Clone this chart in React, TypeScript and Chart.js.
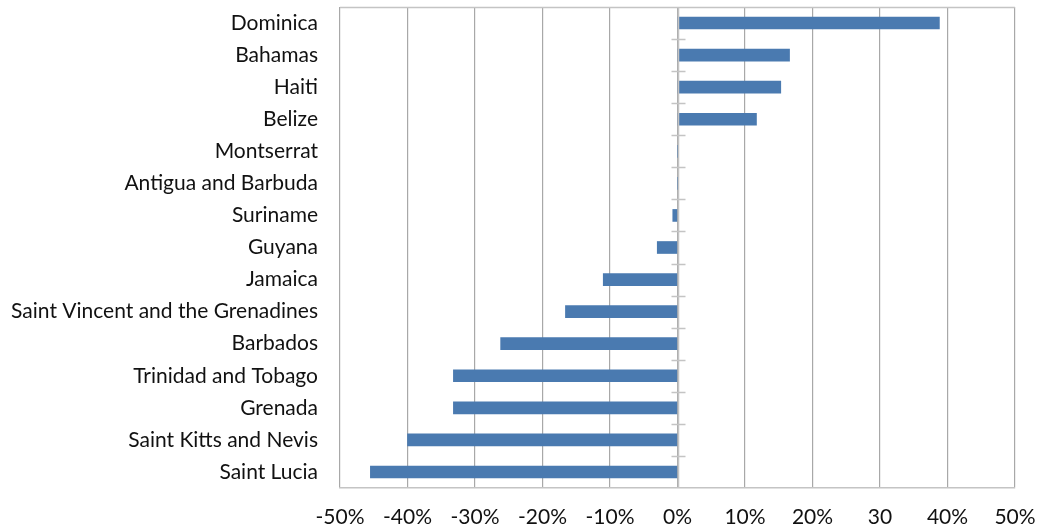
import React, { useEffect, useRef } from "react";
import { Chart, registerables } from "chart.js";
Chart.register(...registerables);

const categories = [
  "Dominica",
  "Bahamas",
  "Haiti",
  "Belize",
  "Montserrat",
  "Antigua and Barbuda",
  "Suriname",
  "Guyana",
  "Jamaica",
  "Saint Vincent and the Grenadines",
  "Barbados",
  "Trinidad and Tobago",
  "Grenada",
  "Saint Kitts and Nevis",
  "Saint Lucia",
];
const values = [38.8, 16.6, 15.3, 11.7, 0, 0, -0.7, -3.0, -11.0, -16.6, -26.2, -33.2, -33.2, -40.0, -45.5];
const tickValues = [-50, -40, -30, -20, -10, 0, 10, 20, 30, 40, 50];
const tickLabels = ["-50%", "-40%", "-30%", "-20%", "-10%", "0%", "10%", "20%", "30", "40%", "50%"];

const FONT = "Lato, 'Open Sans', sans-serif";

const framePlugin = {
  id: "frame",
  afterDatasetsDraw(chart: any) {
    const { ctx, chartArea } = chart;
    const x = chart.scales.x;
    const zero = Math.round(x.getPixelForValue(0)) + 0.5;
    const n = categories.length;
    const step = (chartArea.bottom - chartArea.top) / n;
    ctx.save();
    ctx.strokeStyle = "#c4c4c4";
    ctx.lineWidth = 1.5;
    ctx.beginPath();
    ctx.moveTo(zero, chartArea.top);
    ctx.lineTo(zero, chartArea.bottom);
    for (let i = 1; i < n; i++) {
      const y = Math.round(chartArea.top + step * i) + 0.5;
      ctx.moveTo(zero - 7, y);
      ctx.lineTo(zero + 7, y);
    }
    ctx.stroke();
    ctx.beginPath();
    ctx.moveTo(chartArea.left, chartArea.top + 0.5);
    ctx.lineTo(chartArea.right, chartArea.top + 0.5);
    ctx.stroke();
    ctx.restore();
  },
};

export default function App() {
  const ref = useRef<HTMLCanvasElement>(null);
  useEffect(() => {
    document.body.style.margin = "0";
    const chart = new Chart(ref.current!, {
      type: "bar",
      data: {
        labels: categories,
        datasets: [
          {
            data: values,
            backgroundColor: "#4a7ab0",
            borderWidth: 0,
            barThickness: 12,
          },
        ],
      },
      options: {
        indexAxis: "y",
        animation: false,
        responsive: false,
        devicePixelRatio: 1,
        layout: { padding: { top: 7, right: 28, left: 0, bottom: 0 } },
        plugins: { legend: { display: false }, tooltip: { enabled: false } },
        scales: {
          x: {
            min: -50,
            max: 50,
            afterBuildTicks(scale: any) {
              scale.ticks = tickValues.map((v) => ({ value: v }));
            },
            afterFit(scale: any) {
              scale.height = 38;
              scale.paddingLeft = 0;
              scale.paddingRight = 0;
            },
            grid: { color: "#a8a8a8", lineWidth: 1.2, drawTicks: true, tickLength: 17, tickColor: "rgba(0,0,0,0)" },
            border: { color: "#c4c4c4", width: 1.5 },
            ticks: {
              padding: 0,
              color: "#111111",
              font: { family: FONT, size: 21 },
              callback(value: any) {
                const i = tickValues.indexOf(Number(value));
                return i >= 0 ? tickLabels[i] : "";
              },
            },
          },
          y: {
            afterFit(scale: any) {
              scale.width = 340;
              scale.paddingTop = 0;
              scale.paddingBottom = 0;
            },
            grid: { display: true, drawOnChartArea: false, drawTicks: true, tickLength: 22, tickColor: "rgba(0,0,0,0)", color: "rgba(0,0,0,0)" },
            border: { display: false },
            ticks: {
              padding: 0,
              color: "#111111",
              font: { family: FONT, size: 21 },
            },
          },
        },
      },
      plugins: [framePlugin],
    });
    return () => chart.destroy();
  }, []);
  return (
    <div style={{ width: 1043, height: 526 }}>
      <canvas ref={ref} width={1043} height={526} style={{ display: "block" }} />
    </div>
  );
}
